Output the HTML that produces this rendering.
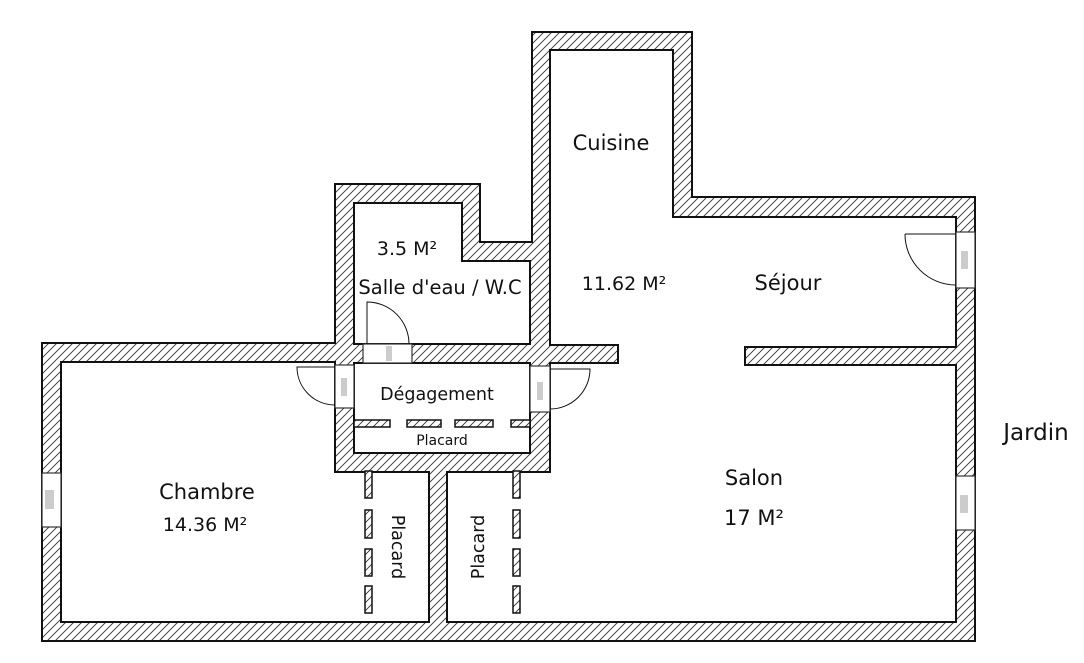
<!DOCTYPE html>
<html><head><meta charset="utf-8"><style>
html,body{margin:0;padding:0;background:#fff;width:1084px;height:663px;overflow:hidden}
svg text{font-family:"DejaVu Sans","Liberation Sans",sans-serif;fill:#111}
</style></head><body>
<svg width="1084" height="663" viewBox="0 0 1084 663" xmlns="http://www.w3.org/2000/svg">
<defs>
<pattern id="h" patternUnits="userSpaceOnUse" width="8" height="8">
<rect width="8" height="8" fill="#fff"/>
<path d="M-2,10 L10,-2 M-2,2 L2,-2 M6,10 L10,6" stroke="#333" stroke-width="0.9"/>
</pattern>
</defs>
<path d="M42,343 L335,343 L335,184 L480,184 L480,242 L532,242 L532,32 L692,32 L692,197 L975,197 L975,641 L42,641 Z" fill="url(#h)" stroke="#111" stroke-width="2"/>
<path d="M550,50 L673,50 L673,217 L956,217 L956,347 L745,347 L745,365 L956,365 L956,622 L447,622 L447,472 L550,472 L550,363 L618,363 L618,345 L550,345 Z" fill="#fff" stroke="#111" stroke-width="2"/>
<path d="M354,203 L462,203 L462,261 L530,261 L530,344 L354,344 Z" fill="#fff" stroke="#111" stroke-width="2"/>
<rect x="354" y="363" width="176" height="90" fill="#fff" stroke="#111" stroke-width="2"/>
<path d="M61,362 L335,362 L335,472 L429,472 L429,622 L61,622 Z" fill="#fff" stroke="#111" stroke-width="2"/>
<g fill="url(#h)" stroke="#111" stroke-width="1.5">
<rect x="354" y="420" width="36" height="7"/>
<rect x="407" y="420" width="34" height="7"/>
<rect x="455" y="420" width="38" height="7"/>
<rect x="511" y="420" width="19" height="7"/>
<rect x="365" y="471" width="7" height="27"/>
<rect x="365" y="510" width="7" height="28"/>
<rect x="365" y="549" width="7" height="27"/>
<rect x="365" y="586" width="7" height="27"/>
<rect x="513" y="471" width="7" height="27"/>
<rect x="513" y="510" width="7" height="28"/>
<rect x="513" y="549" width="7" height="27"/>
<rect x="513" y="586" width="7" height="27"/>
</g>
<g fill="#fff" stroke="#333" stroke-width="1.2">
<rect x="42" y="473" width="19" height="54"/>
<rect x="956" y="476" width="19" height="54"/>
<rect x="956" y="232" width="19" height="56"/>
<rect x="363" y="344" width="49" height="19"/>
<rect x="335" y="365" width="19" height="43"/>
<rect x="530" y="366" width="20" height="46"/>
</g>
<g fill="#ccc">
<rect x="45" y="490" width="9" height="19"/>
<rect x="960" y="495" width="8" height="18"/>
<rect x="961" y="251" width="7" height="18"/>
<rect x="386" y="346" width="6" height="15"/>
<rect x="341" y="378" width="6" height="18"/>
<rect x="537" y="382" width="6" height="18"/>
</g>
<g fill="none" stroke="#111" stroke-width="1">
<path d="M905,234 L956,234 M905,234 A51,51 0 0 0 956,285"/>
<path d="M367,344 L367,302 A42,42 0 0 1 409,344"/>
<path d="M335,367 L297,367 A38,38 0 0 0 335,405"/>
<path d="M550,369 L590,369 A40,40 0 0 1 550,409"/>
</g>
<g text-anchor="middle">
<text x="611" y="150" font-size="21">Cuisine</text>
<text x="407" y="255" font-size="19">3.5 M²</text>
<text x="440" y="294" font-size="19.5">Salle d'eau / W.C</text>
<text x="624" y="290" font-size="19">11.62 M²</text>
<text x="788" y="290" font-size="21">Séjour</text>
<text x="437" y="400" font-size="17.5">Dégagement</text>
<text x="442" y="445" font-size="14">Placard</text>
<text x="207" y="499" font-size="21">Chambre</text>
<text x="205" y="531" font-size="19">14.36 M²</text>
<text x="754" y="485" font-size="21">Salon</text>
<text x="754" y="525" font-size="21">17 M²</text>
<text x="1036" y="440" font-size="23">Jardin</text>
<text x="0" y="0" font-size="17.5" transform="translate(392,547) rotate(90)">Placard</text>
<text x="0" y="0" font-size="17.5" transform="translate(484,547) rotate(-90)">Placard</text>
</g>
</svg>
</body></html>
